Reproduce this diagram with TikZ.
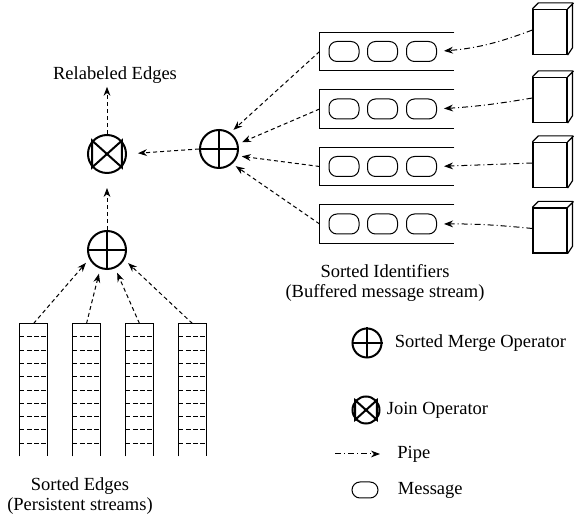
\documentclass[tikz,border=0pt]{standalone}
\usepackage{fontspec}
\setmainfont{Liberation Serif}
\usetikzlibrary{arrows.meta,positioning}

\begin{document}
\begin{tikzpicture}[x=0.5pt,y=-0.5pt,font=\fontsize{9.25}{10}\selectfont]
      \tikzstyle{op} = [draw,circle,line width=1pt,inner sep=0pt]
      \tikzstyle{buffer} = [rectangle,minimum width=67pt,minimum height=19pt,inner sep=0pt]
      \tikzstyle{msg} = [draw,rounded corners=4pt,minimum width=15pt,minimum height=10pt,inner sep=0pt,line width=0.5pt]
      \tikzstyle{stream} = [rectangle,minimum width=13.5pt,minimum height=66pt,inner sep=0pt]
      \tikzstyle{source} = [draw,rectangle,minimum width=17pt,minimum height=22.5pt,inner sep=0pt,line width=0.6pt]
      \tikzstyle{flow} = [line width=0.5pt,dash pattern=on 2pt off 1.5pt,-{Stealth[length=4.5pt,width=3.4pt]}]
      \tikzstyle{pipe} = [line width=0.5pt,dash pattern=on 3pt off 1.5pt on 0.5pt off 1.5pt,-{Stealth[length=4.5pt,width=3.4pt]}]
      \tikzstyle{cell} = [line width=0.5pt,dash pattern=on 2.4pt off 1.2pt]
      \tikzstyle{txt} = [inner sep=0pt,align=center]

      \useasboundingbox (0,0) rectangle (574,523);

      \node[op,minimum size=19pt] (join) at (107,154) {};
      \node[op,minimum size=19pt] (mergeB) at (107,250) {};
      \node[op,minimum size=19pt] (mergeR) at (219,149) {};
      \node[op,minimum size=14.5pt] (legmerge) at (367,343) {};
      \node[op,minimum size=13.5pt] (legjoin) at (366,410) {};
      \foreach \m in {mergeB,mergeR,legmerge}
        \draw[line width=1pt] (\m.north) -- (\m.south) (\m.west) -- (\m.east);
      \foreach \j in {join,legjoin}
        \draw[line width=1pt] (\j.42) -- (\j.318) -- (\j.138) -- (\j.222) -- cycle;

      \foreach \n/\x in {1/33.5,2/86.5,3/139.5,4/192.5} {
        \node[stream] (col\n) at (\x,390) {};
        \draw[line width=0.6pt] (col\n.south west) -- (col\n.north west) -- (col\n.north east) -- (col\n.south east);
        \foreach \k in {1,...,9}
          \draw[cell] ([yshift=-\k*6.65pt]col\n.north west) -- ([yshift=-\k*6.65pt]col\n.north east);
      }

      \foreach \n/\y in {1/51.5,2/109,3/166.5,4/224} {
        \node[buffer] (buf\n) at (387,\y) {};
        \draw[line width=0.5pt] (buf\n.north east) -- (buf\n.north west) -- (buf\n.south west) -- (buf\n.south east);
        \foreach \m/\x in {1/344,2/382.5,3/421.5}
          \node[msg] (msg\n\m) at (\x,\y) {};
      }

      \foreach \n/\y in {1/32,2/100,3/165,4/230.5} {
        \node[source] (src\n) at (550,\y) {};
        \draw[line width=0.6pt] (src\n.north west) -- ++(6,-6) -- ++(34,0) -- ++(0,45) -- (src\n.south east)
          (src\n.north east) -- ++(6,-6);
      }

      \node[txt,inner sep=1.5pt] (relab) at (115,75) {Relabeled Edges};
      \node[txt] (ids) at (385,283) {Sorted Identifiers\\(Buffered message stream)};
      \node[txt] (edges) at (80,496) {Sorted Edges\\(Persistent streams)};

      \foreach \n/\b in {1/8,2/3,3/0,4/-3}
        \draw[pipe,shorten >=3.5pt] ([yshift=1pt]src\n.west) to[bend left=\b] (msg\n3.east);
      \foreach \n/\a in {1/55,2/15,3/340,4/312}
        \draw[flow,shorten >=2pt] (buf\n.west) -- (mergeR.\a);
      \foreach \n/\a in {1/207,2/250,3/294,4/331}
        \draw[flow,shorten >=2.5pt] (col\n.north) -- (mergeB.\a);
      \draw[flow,shorten >=5.5pt] (mergeR.west) -- (join.east);
      \draw[flow,shorten >=7pt] (mergeB.north) -- (join.south);
      \draw[flow] (join.north) -- (join.north |- relab.south);

      \node[txt,right=6pt of legmerge] (legmergetxt) {Sorted Merge Operator};
      \node[txt,right=3pt of legjoin] (legjointxt) {Join Operator};
      \coordinate (pipeA) at (335,454);
      \coordinate (pipeB) at (380,454);
      \draw[pipe] (pipeA) -- (pipeB);
      \node[txt,right=8.5pt of pipeB] (legpipetxt) {Pipe};
      \node[msg,minimum width=13pt,minimum height=8pt] (legmsg) at (365,490) {};
      \node[txt,right=9.5pt of legmsg] (legmsgtxt) {Message};
\end{tikzpicture}
\end{document}
